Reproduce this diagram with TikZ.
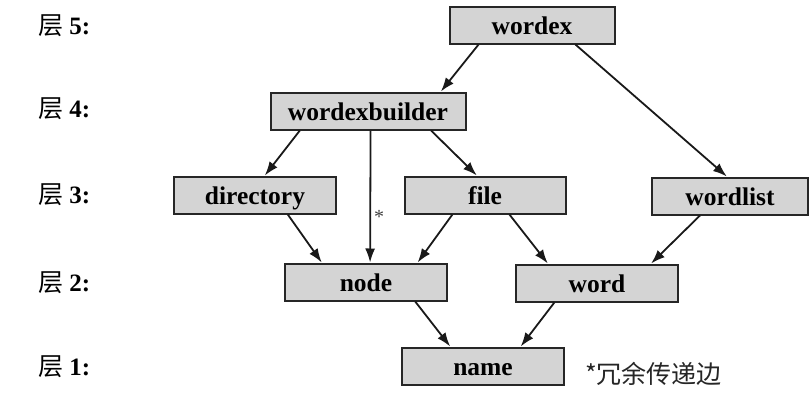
\documentclass[tikz,border=0pt]{standalone}
\usepackage{fontspec}
\setmainfont{Liberation Serif}
\newfontfamily\cjk{Noto Sans CJK SC}
\usetikzlibrary{arrows.meta,calc}
\begin{document}
\begin{tikzpicture}[x=1pt,y=-1pt,
  modbox/.style={draw=black!85,line width=2pt,fill=black!17,
    minimum width=162pt,minimum height=37pt,inner sep=0pt,
    text height=19pt,text depth=0pt,
    font=\fontsize{25.5}{28}\selectfont\bfseries},
  layer/.style={anchor=west,inner sep=0pt,font=\fontsize{25}{28}\selectfont},
  dep/.style={draw=black!90,line width=1.8pt,-{Latex[length=14pt,width=10pt]}}]
\useasboundingbox (0,0) rectangle (812,413);
% modules
\node[modbox,minimum width=165pt] (wordex) at (532,25) {wordex};
\node[modbox,minimum width=195pt] (builder) at (368,111) {wordexbuilder};
\node[modbox] (directory) at (255,195) {directory};
\node[modbox,minimum width=161pt] (file) at (485,195) {file};
\node[modbox,minimum width=156pt] (wordlist) at (730,196) {wordlist};
\node[modbox] (node) at (366,282) {node};
\node[modbox] (word) at (597,283) {word};
\node[modbox] (name) at (483,366) {name};
% layer labels
\node[layer] (l5) at (38,26) {{\cjk 层}\ \bfseries 5:};
\node[layer] (l4) at (38,109) {{\cjk 层}\ \bfseries 4:};
\node[layer] (l3) at (38,195) {{\cjk 层}\ \bfseries 3:};
\node[layer] (l2) at (38,283) {{\cjk 层}\ \bfseries 2:};
\node[layer] (l1) at (38,367) {{\cjk 层}\ \bfseries 1:};
% dependencies
\draw[dep] ($(wordex.south west)!0.18!(wordex.south east)$) -- ($(builder.north west)!0.87!(builder.north east)$);
\draw[dep] ($(wordex.south west)!0.76!(wordex.south east)$) -- ($(wordlist.north west)!0.48!(wordlist.north east)$);
\draw[dep] ($(builder.south west)!0.154!(builder.south east)$) -- ($(directory.north west)!0.56!(directory.north east)$);
\draw[dep] ($(builder.south west)!0.513!(builder.south east)$) -- ($(node.north west)!0.525!(node.north east)$);
\draw[dep] ($(builder.south west)!0.82!(builder.south east)$) -- ($(file.north west)!0.45!(file.north east)$);
\draw[dep] ($(directory.south west)!0.70!(directory.south east)$) -- ($(node.north west)!0.23!(node.north east)$);
\draw[dep] ($(file.south west)!0.30!(file.south east)$) -- ($(node.north west)!0.815!(node.north east)$);
\draw[dep] ($(file.south west)!0.65!(file.south east)$) -- ($(word.north west)!0.20!(word.north east)$);
\draw[dep] ($(wordlist.south west)!0.31!(wordlist.south east)$) -- ($(word.north west)!0.83!(word.north east)$);
\draw[dep] ($(node.south west)!0.80!(node.south east)$) -- ($(name.north west)!0.30!(name.north east)$);
\draw[dep] ($(word.south west)!0.24!(word.south east)$) -- ($(name.north west)!0.73!(name.north east)$);
% redundant-edge marker and note
\node[inner sep=0pt,font=\fontsize{20}{22}\selectfont,text=black!75] (star) at (379,217) {*};
\node[anchor=west,inner sep=0pt,font=\fontsize{25}{28}\selectfont\cjk,text=black!85] (note) at (585,374) {*冗余传递边};
\end{tikzpicture}
\end{document}
